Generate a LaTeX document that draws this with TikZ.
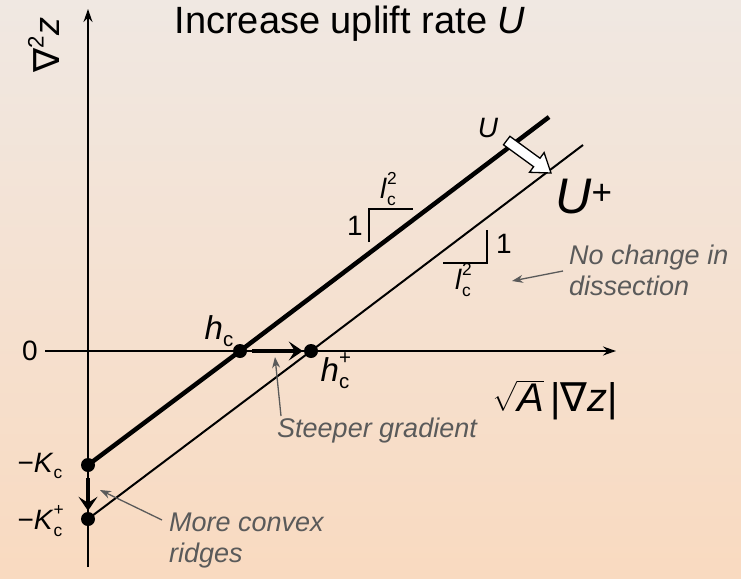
\documentclass[tikz,border=0pt]{standalone}
\usepackage{amsmath}
\usepackage{fontspec}
\setmainfont{Liberation Sans}
\newfontfamily\dejavu{DejaVu Sans}
\usetikzlibrary{arrows.meta}
\definecolor{bgtop}{HTML}{F0E8E2}
\definecolor{bgbot}{HTML}{F9DAC0}
\definecolor{note}{HTML}{5A5A5A}
\newcommand{\mysubsup}[3]{#1\rlap{\raisebox{0.5em}{\scalebox{0.62}{#3}}}\raisebox{-0.22em}{\scalebox{0.62}{#2}}}
\newcommand{\mysub}[2]{#1\raisebox{-0.22em}{\scalebox{0.62}{#2}}}
\tikzset{
  axis/.style={line width=1.4pt,-{Stealth[length=13pt,width=9pt]}},
  dot/.style={circle,fill=black,inner sep=0pt,minimum size=14pt},
  thickln/.style={line width=4.5pt},
  thinln/.style={line width=2pt},
  lbl/.style={font=\fontsize{28}{32}\selectfont,inner sep=0pt},
  bigl/.style={font=\fontsize{33}{36}\selectfont,inner sep=0pt},
  notetxt/.style={font=\fontsize{27}{31}\selectfont\itshape,text=note,inner sep=0pt,align=left},
  pointer/.style={draw=note,line width=1.3pt,-{Stealth[length=11pt,width=8pt]}},
  bold arrow/.style={line width=4.5pt,-{Stealth[length=14pt,width=19pt,inset=6pt]}},
  tri/.style={line width=1.5pt}
}
\begin{document}
\begin{tikzpicture}[x=1pt,y=-1pt]
\useasboundingbox (0,0) rectangle (741,578);
\shade[top color=bgtop,bottom color=bgbot] (0,0) rectangle (741,578);

% title
\node[font=\fontsize{38}{42}\selectfont,inner sep=0pt] (title) at (350,24) {Increase uplift rate \textit{U}};

% axes
\coordinate (ybot) at (88,567);
\coordinate (ytop) at (88,9);
\coordinate (xl) at (45,351);
\coordinate (xr) at (616,351);
\draw[axis] (ybot) -- (ytop);
\draw[axis] (xl) -- (xr);
\node[font=\fontsize{36}{40}\selectfont,inner sep=0pt,rotate=90] (ylab) at (44,45) {{\dejavu ∇}\raisebox{0.45em}{\scalebox{0.62}{2}}\textit{z}};
\node[font=\fontsize{40}{44}\selectfont,inner sep=0pt] (xlab) at (555,400) {$\sqrt{\textit{A}}$\,|{\dejavu ∇}\textit{z}|};
\node[lbl] (zero) at (30,351) {0};

% points
\node[dot] (hc) at (240,351) {};
\node[dot] (hcp) at (311,351) {};
\node[dot] (Kc) at (88,465) {};
\node[dot] (Kcp) at (88,519) {};
\coordinate (uend) at (549,117);
\coordinate (upend) at (583,145);

% lines
\draw[thickln] (Kc.center) -- (hc.center) -- (uend);
\draw[thinln] (Kcp.center) -- (hcp.center) -- (upend);

% labels of points
\node[bigl] (hcl) at (219,331) {\mysub{\textit{h}}{c}};
\node[bigl] (hcpl) at (335,371) {\mysubsup{\textit{h}}{c}{+}};
\node[lbl] (Kcl) at (40,466) {−\mysub{\textit{K}}{c}};
\node[lbl] (Kcpl) at (40,521) {−\mysubsup{\textit{K}}{c}{+}};

% bold arrows
\draw[bold arrow,shorten <=5pt,shorten >=1pt] (hc) -- (hcp);
\draw[bold arrow,shorten <=6pt,shorten >=1pt] (Kc) -- (Kcp);

% white arrow between lines
\draw[line width=1.3pt,fill=white,line join=miter]
  (503.5,144.8) -- (533.6,166.7) -- (529.5,172.3) -- (551,173)
  -- (544.1,152.6) -- (540.0,158.2) -- (509.9,136.3) -- cycle;
\node[lbl] (Ul) at (488,128) {\textit{U}};
\node[font=\fontsize{50}{54}\selectfont,inner sep=0pt] (Upl) at (584,197) {\textit{U}\textsuperscript{+}};

% slope triangles
\coordinate (t1a) at (369,242);
\coordinate (t1b) at (369,209);
\coordinate (t1c) at (413,209);
\draw[tri] (t1a) -- (t1b) -- (t1c);
\node[lbl] (one1) at (355,226) {1};
\node[lbl] (lc1) at (388,189) {\mysubsup{\textit{l}}{c}{2}};
\coordinate (t2a) at (443,263);
\coordinate (t2b) at (487,263);
\coordinate (t2c) at (487,230);
\draw[tri] (t2a) -- (t2b) -- (t2c);
\node[lbl] (one2) at (504,244) {1};
\node[lbl] (lc2) at (463,280) {\mysubsup{\textit{l}}{c}{2}};

% notes
\node[notetxt,anchor=north west] (n1) at (569,245) {No change in\\dissection};
\coordinate (n1p) at (512,281);
\draw[pointer] (n1.west |- 0,271) ++(-6,0) -- (n1p);
\node[notetxt,anchor=west] (n2) at (277,431) {Steeper gradient};
\coordinate (n2p) at (275,357);
\draw[pointer] (281,416) -- (n2p);
\node[notetxt,anchor=north west] (n3) at (169,513) {More convex\\ridges};
\coordinate (n3p) at (100,490);
\draw[pointer] (162,520) -- (n3p);
\end{tikzpicture}
\end{document}
